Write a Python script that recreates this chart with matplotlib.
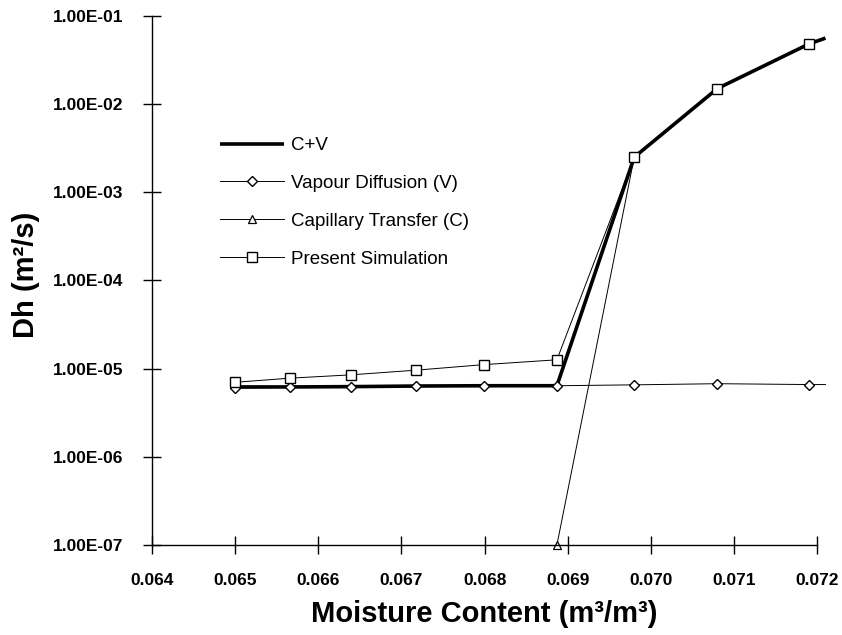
import matplotlib
matplotlib.use("Agg")
import matplotlib.pyplot as plt
from matplotlib.ticker import FixedLocator, FuncFormatter

plt.rcParams["font.family"] = ["Liberation Sans", "DejaVu Sans"]

# moisture content (m3/m3) at the computed points
moisture = [0.0650, 0.06566, 0.06639, 0.06717, 0.06799, 0.06887, 0.0698, 0.0708, 0.0719]
# the lines run on a little past the right end of the axis
moisture_end = 0.0721

vapour = [6.0e-6, 6.15e-6, 6.2e-6, 6.35e-6, 6.4e-6, 6.4e-6, 6.55e-6, 6.75e-6, 6.6e-6]
vapour_end = 6.6e-6
capillary_x = [0.06887, 0.0698, 0.0708, 0.0719]
capillary = [1.0e-7, 2.5e-3, 1.5e-2, 4.8e-2]
c_plus_v = [6.2e-6, 6.2e-6, 6.25e-6, 6.35e-6, 6.4e-6, 6.4e-6, 2.5e-3, 1.5e-2, 4.8e-2]
c_plus_v_end = 5.6e-2
simulation = [7.0e-6, 7.8e-6, 8.5e-6, 9.6e-6, 1.11e-5, 1.26e-5, 2.5e-3, 1.5e-2, 4.8e-2]

xticks = [0.064, 0.065, 0.066, 0.067, 0.068, 0.069, 0.070, 0.071, 0.072]
yticks = [1e-7, 1e-6, 1e-5, 1e-4, 1e-3, 1e-2, 1e-1]

fig = plt.figure(figsize=(8.42, 6.35), dpi=100)
ax = fig.add_axes([0.1805, 0.1417, 0.790, 0.8333])

n = len(moisture)
ax.plot(moisture + [moisture_end], c_plus_v + [c_plus_v_end], color="black",
        lw=2.6, label="C+V", solid_capstyle="butt", clip_on=False)
ax.plot(moisture + [moisture_end], vapour + [vapour_end], color="black", lw=0.7,
        marker="D", ms=5, mfc="white", mec="black", mew=1.0,
        markevery=list(range(n)), label="Vapour Diffusion (V)", clip_on=False)
ax.plot(capillary_x, capillary, color="black", lw=0.7, marker="^", ms=6,
        mfc="white", mec="black", mew=0.9, label="Capillary Transfer (C)",
        clip_on=False)
ax.plot(moisture, simulation, color="black", lw=0.7, marker="s", ms=7,
        mfc="white", mec="black", mew=1.0, label="Present Simulation")

ax.set_yscale("log")
ax.set_xlim(0.064, 0.072)
ax.set_ylim(1e-7, 1e-1)
ax.xaxis.set_major_locator(FixedLocator(xticks))
ax.yaxis.set_major_locator(FixedLocator(yticks))
ax.yaxis.set_minor_locator(FixedLocator([]))
ax.xaxis.set_major_formatter(FuncFormatter(lambda v, p: f"{v:.3f}"))
ax.yaxis.set_major_formatter(FuncFormatter(lambda v, p: f"{v:.2E}"))

for s in ["top", "right"]:
    ax.spines[s].set_visible(False)
for s in ["left", "bottom"]:
    ax.spines[s].set_linewidth(1.0)

ax.tick_params(axis="both", direction="inout", length=13, width=1.0, labelsize=12.5)
ax.tick_params(axis="y", pad=14)
ax.tick_params(axis="x", pad=14)
for lab in ax.get_yticklabels() + ax.get_xticklabels():
    lab.set_fontweight("bold")

ax.set_xlabel("Moisture Content (m³/m³)", fontsize=21, fontweight="bold", labelpad=8)
ax.set_ylabel("Dh (m²/s)", fontsize=21, fontweight="bold")
ax.yaxis.set_label_coords(-0.168, 0.511)

fig.legend(loc="upper left", bbox_to_anchor=(0.2615, 0.784), frameon=False,
           fontsize=13.5, handlelength=3.4, handletextpad=0.4,
           labelspacing=1.1, borderaxespad=0, borderpad=0)

fig.savefig("out.png", dpi=100)
